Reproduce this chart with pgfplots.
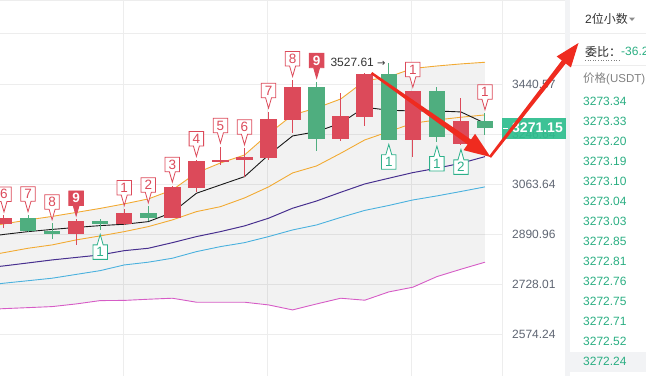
\documentclass[border=0pt]{standalone}
\usepackage{pgfplots}
\usepackage{pgfplotstable}
\pgfplotsset{compat=1.18}
\usetikzlibrary{shapes.callouts,arrows.meta}
\usepackage{fontspec}
\setmainfont{Liberation Sans}
\newfontfamily\cjk{Noto Sans CJK SC}
\newfontfamily\dejavu{DejaVu Sans}

\definecolor{cred}{HTML}{DC4A5A}
\definecolor{cgrn}{HTML}{4FAE7F}
\definecolor{tdgc}{HTML}{2DB08A}
\definecolor{cora}{HTML}{F2AA33}
\definecolor{cpur}{HTML}{48308F}
\definecolor{cblu}{HTML}{4BB1DE}
\definecolor{cpnk}{HTML}{D65CC6}
\definecolor{gridc}{HTML}{EDEDED}
\definecolor{axc}{HTML}{5E6572}
\definecolor{pricec}{HTML}{2AAE82}
\definecolor{tagc}{HTML}{2EBD8E}
\definecolor{arr}{HTML}{EF2B1F}
\definecolor{sepc}{HTML}{F2F3F5}

% candles: i open high low close
\pgfplotstableread{
i o h l c
0 2924.7 2954.8 2911.2 2947.2
3 2893.0 2941.1 2855.3 2936.0
5 2924.7 2977.1 2922.4 2963.3
7 2947.2 3058.7 2946.5 3054.1
8 3051.6 3151.3 3037.4 3147.6
9 3145.1 3200.2 3133.1 3152.4
10 3150.2 3194.3 3089.7 3162.2
11 3159.6 3333.0 3151.3 3304.8
12 3302.2 3457.8 3252.7 3429.8
14 3228.9 3404.8 3222.6 3316.4
15 3312.5 3487.2 3278.1 3483.2
17 3226.3 3414.5 3163.3 3413.9
19 3211.4 3385.1 3206.6 3297.2
}\redtab
\pgfplotstableread{
i o h l c
1 2946.2 2955.4 2898.7 2901.0
2 2902.0 2928.1 2875.2 2893.0
4 2936.7 2942.8 2905.4 2926.8
6 2963.3 2986.4 2936.0 2947.2
13 3429.8 3451.0 3185.4 3230.1
16 3483.2 3527.61 3225.5 3226.3
18 3413.9 3431.0 3218.9 3236.5
20 3297.2 3326.8 3244.0 3271.15
}\greentab
% indicator lines
\pgfplotstableread{
i up mid dn pur blu pnk
-1 2912.2 2878.6 2815.8 2778.5 2722.6 2647.8
0 2925.8 2890.3 2829.9 2786.6 2731.2 2651.8
1 2939.4 2899.7 2844.3 2796.3 2739.1 2654.9
2 2951.3 2907.1 2855.3 2806.0 2747.1 2658.0
3 2965.1 2913.8 2871.9 2814.1 2759.2 2666.3
4 2978.8 2920.0 2885.3 2822.3 2771.4 2676.6
5 2994.4 2924.7 2899.7 2836.4 2789.8 2677.2
6 3011.8 2933.6 2916.6 2844.3 2798.6 2680.9
7 3043.4 2965.1 2939.4 2862.9 2811.5 2684.0
8 3104.1 3031.8 2967.8 2882.9 2833.1 2671.6
9 3140.3 3061.2 2985.0 2899.7 2849.6 2671.6
10 3169.5 3090.8 3015.3 2919.0 2862.9 2671.6
11 3247.8 3169.5 3054.1 2945.2 2882.9 2663.2
12 3320.2 3240.2 3104.1 2979.5 2905.4 2647.8
13 3347.2 3256.5 3129.4 3004.8 2922.4 2666.3
14 3382.3 3288.4 3175.8 3035.3 2947.9 2684.0
15 3453.8 3350.0 3225.3 3064.7 2972.0 2677.8
16 3469.9 3338.3 3256.5 3085.1 2989.2 2703.7
17 3504.3 3335.6 3288.4 3105.2 3008.3 2718.5
18 3514.5 3335.6 3301.0 3121.1 3022.3 2752.2
19 3522.6 3331.7 3311.4 3139.3 3038.1 2775.9
20 3529.6 3288.4 3320.2 3163.3 3054.1 2798.6
}\linetab

\tikzset{
  tdbase/.style={rectangle callout, line width=0.8pt, minimum width=14.5pt,
    minimum height=14.5pt, inner sep=0pt, callout pointer width=6pt,
    font=\fontsize{13.5}{14}\selectfont},
  tdr/.style={tdbase, draw=cred, fill=white, text=cred,
    callout relative pointer={(0pt,-10.5pt)}, anchor=pointer, yshift=2pt},
  tdr9/.style={tdr, fill=cred, text=white, font=\fontsize{13.5}{14}\selectfont\bfseries},
  tdg/.style={tdbase, draw=tdgc, fill=white, text=tdgc,
    callout relative pointer={(0pt,10.5pt)}, anchor=pointer, yshift=-3pt},
}
\pgfplotsset{
  candle/.style={only marks, mark=*, mark size=0.01pt,
    mark options={draw opacity=0, fill opacity=0}, forget plot},
}

\begin{document}
\begin{tikzpicture}[x=1pt,y=1pt]
\begin{pgfinterruptboundingbox}
\begin{axis}[
  at={(0,0)}, anchor=south west, scale only axis,
  width=502pt, height=376pt,
  xmin=-0.1663, xmax=20.707,
  ymode=log, ymin=2452.6, ymax=3794.4,
  axis line style={draw=none},
  tick style={draw=none},
  xtick={4.96,10.96,16.94}, xticklabels={},
  ytick={2574.24,2728.01,2890.96,3063.64,3246.64,3440.57},
  yticklabels={2574.24,2728.01,2890.96,3063.64,3246.64,3440.57},
  yticklabel pos=right,
  yticklabel style={anchor=west, inner sep=0pt, xshift=10pt,
    font=\fontsize{12}{14}\selectfont, text=axc},
  grid=major, major grid style={draw=gridc, line width=0.8pt},
]
% band fill: upper band forward, lowest average back
\addplot[fill=black, fill opacity=0.05, draw=none, forget plot] coordinates {
 (-1,2912.2) (0,2925.8) (1,2939.4) (2,2951.3) (3,2965.1) (4,2978.8) (5,2994.4)
 (6,3011.8) (7,3043.4) (8,3104.1) (9,3140.3) (10,3169.5) (11,3247.8) (12,3320.2)
 (13,3347.2) (14,3382.3) (15,3453.8) (16,3469.9) (17,3504.3) (18,3514.5)
 (19,3522.6) (20,3529.6)
 (20,2798.6) (19,2775.9) (18,2752.2) (17,2718.5) (16,2703.7) (15,2677.8)
 (14,2684.0) (13,2666.3) (12,2647.8) (11,2663.2) (10,2671.6) (9,2671.6)
 (8,2671.6) (7,2684.0) (6,2680.9) (5,2677.2) (4,2676.6) (3,2666.3) (2,2658.0)
 (1,2654.9) (0,2651.8) (-1,2647.8)} -- cycle;
% indicator lines
\addplot[cora, line width=0.9pt, forget plot] table[x=i,y=up]{\linetab};
\addplot[cora, line width=0.9pt, forget plot] table[x=i,y=dn]{\linetab};
\addplot[black!90, line width=0.9pt, forget plot] table[x=i,y=mid]{\linetab};
\addplot[cpur, line width=1pt, forget plot] table[x=i,y=pur]{\linetab};
\addplot[cblu, line width=0.9pt, forget plot] table[x=i,y=blu]{\linetab};
\addplot[cpnk, line width=0.9pt, forget plot] table[x=i,y=pnk]{\linetab};
% wicks
\addplot[candle, error bars/.cd, y dir=plus, y explicit,
  error mark=none, error bar style={draw=cred, line width=1pt}]
  table[x=i, y=l, y error plus expr=\thisrow{h}-\thisrow{l}]{\redtab};
\addplot[candle, error bars/.cd, y dir=plus, y explicit,
  error mark=none, error bar style={draw=cgrn, line width=1pt}]
  table[x=i, y=l, y error plus expr=\thisrow{h}-\thisrow{l}]{\greentab};
% bodies
\addplot[candle, error bars/.cd, y dir=plus, y explicit,
  error mark=none, error bar style={draw=cred, line width=16.5pt}]
  table[x=i, y=o, y error plus expr=\thisrow{c}-\thisrow{o}]{\redtab};
\addplot[candle, error bars/.cd, y dir=plus, y explicit,
  error mark=none, error bar style={draw=cgrn, line width=16.5pt}]
  table[x=i, y=c, y error plus expr=\thisrow{o}-\thisrow{c}]{\greentab};
% TD sequence labels
\node[tdr] at (axis cs:0,2954.8) {6};
\node[tdr] at (axis cs:1,2955.4) {7};
\node[tdr] at (axis cs:2,2928.1) {8};
\node[tdr9] at (axis cs:3,2941.1) {9};
\node[tdr] at (axis cs:5,2977.1) {1};
\node[tdr] at (axis cs:6,2986.4) {2};
\node[tdr] at (axis cs:7,3058.7) {3};
\node[tdr] at (axis cs:8,3151.3) {4};
\node[tdr] at (axis cs:9,3200.2) {5};
\node[tdr] at (axis cs:10,3194.3) {6};
\node[tdr] at (axis cs:11,3333.0) {7};
\node[tdr] at (axis cs:12,3457.8) {8};
\node[tdr9] at (axis cs:13,3451.0) {9};
\node[tdr] at (axis cs:17,3414.5) {1};
\node[tdr] at (axis cs:20,3326.8) {1};
\node[tdg] at (axis cs:4,2905.4) {1};
\node[tdg] at (axis cs:16,3225.5) {1};
\node[tdg] at (axis cs:18,3218.9) {1};
\node[tdg] at (axis cs:19,3206.6) {2};
\node[anchor=east, inner sep=0pt, text=black!80, font=\fontsize{12}{14}\selectfont]
  at (axis cs:16,3527.61) [xshift=-3pt] {3527.61 {\dejavu\fontsize{10}{12}\selectfont →}};
\end{axis}

\begin{scope}[shift={(0,376)}, yscale=-1]
  \draw[gridc, line width=0.8pt] (0,0.5) -- (565,0.5);
  \draw[gridc, line width=0.8pt] (0,33.5) -- (565,33.5);
  \draw[gridc, line width=0.8pt] (502,0) -- (502,376);
  \fill[sepc] (565,0) rectangle (570,376);
  \draw[gridc, line width=0.8pt] (570,33.5) -- (646,33.5);
  \draw[gridc, line width=0.8pt] (570,65.5) -- (646,65.5);
  \fill[sepc] (570,352) rectangle (646,372);
  % current price tag
  \fill[tagc, fill opacity=0.93] (502,117.5) rectangle (565.5,138.5);
  \draw[white, line width=1pt] (503,128) -- (508,128);
  \node[text=white, font=\fontsize{14}{16}\selectfont\bfseries, inner sep=0pt] at (537.5,128) {3271.15};
  % right panel
  \node[anchor=west, inner sep=0pt, text=black!80, font=\fontsize{12}{14}\selectfont] at (585,19) {2{\cjk 位小数}};
  \fill[black!45] (629,17.5) -- (635,17.5) -- (632,21) -- cycle;
  \node[anchor=west, inner sep=0pt, text=black!85, font=\fontsize{12}{14}\selectfont] at (585,51.5) {\cjk 委比：};
  \node[anchor=west, inner sep=0pt, text=pricec, font=\fontsize{12}{14}\selectfont] at (621,51.5) {-36.2};
  \draw[black!50, dotted, line width=0.6pt] (585,60) -- (621,60);
  \node[anchor=west, inner sep=0pt, text=black!50, font=\fontsize{11.5}{14}\selectfont] at (583,79) {{\cjk 价格}(USDT)};
  \foreach \p [count=\k from 0] in {3273.34,3273.33,3273.20,3273.19,3273.10,3273.04,3273.03,3272.85,3272.81,3272.76,3272.75,3272.71,3272.52,3272.24}{
    \node[anchor=west, inner sep=0pt, text=pricec, font=\fontsize{12}{14}\selectfont] at (583,101.7+20*\k) {\p};
  }
  % red annotation arrows (tapered shafts)
  \fill[arr] (370.81,73.98) -- (467.57,144.45) -- (463.53,150.17) -- (490.5,157)
     -- (475.07,133.83) -- (471.03,139.55) -- (372.19,72.02) -- cycle;
  \fill[arr] (491.03,157.80) -- (565.76,63.49) -- (570.89,67.48) -- (578.5,43)
     -- (556.67,56.44) -- (561.81,60.43) -- (488.97,156.20) -- cycle;
\end{scope}
\end{pgfinterruptboundingbox}
\path (0,0) rectangle (646,376);
\end{tikzpicture}
\end{document}
